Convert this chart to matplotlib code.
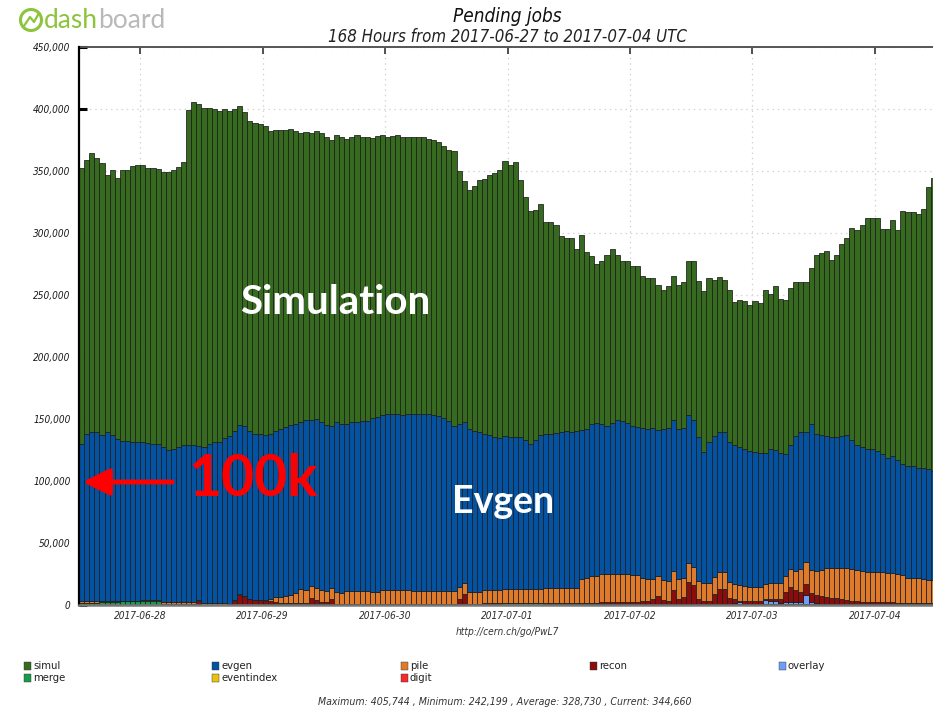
import matplotlib
matplotlib.use("Agg")
import matplotlib.pyplot as plt
import matplotlib.dates as mdates
from matplotlib import font_manager as fm
from matplotlib.patches import Rectangle, Ellipse, FancyArrowPatch
from matplotlib.lines import Line2D
from matplotlib.ticker import MultipleLocator, FuncFormatter
import numpy as np
import pandas as pd

# ---------------- data (thousands of pending jobs, one bar per hour) ----------------
SCALE = 1000
start_time = "2017-06-27 12:00"

simul = [222.6, 220.9, 225.2, 220.9, 219.3, 207.5, 213.6, 210.7, 218.2, 218.2,
         222.5, 223.0, 223.0, 222.0, 222.8, 221.4, 222.0, 223.9, 224.9, 226.3,
         228.1, 270.1, 276.6, 276.0, 273.6, 270.9, 268.8, 267.2, 265.3, 262.6,
         259.9, 257.2, 253.0, 250.0, 250.5, 249.7, 248.9, 244.8, 242.9, 241.6,
         239.5, 238.9, 236.3, 233.0, 232.5, 231.4, 232.5, 233.6, 231.9, 230.7,
         231.7, 231.4, 229.9, 229.8, 231.4, 228.7, 228.7,
         225.8, 226.3, 225.2, 223.6, 224.2, 224.7, 224.2, 223.1, 222.8, 223.1,
         222.8, 221.5, 221.2, 221.0, 219.1, 218.2, 221.7, 203.7, 194.0, 192.4,
         197.3, 202.9, 205.6, 210.1, 212.6, 216.3, 221.2, 219.0, 221.5, 206.9,
         195.3, 187.5, 184.8, 185.9, 170.6, 170.6, 168.0, 158.0, 155.8, 156.4,
         146.4, 157.1, 142.6, 135.4, 128.1, 131.9, 137.8, 139.9, 132.4, 128.7,
         130.3, 128.4, 129.4, 122.2, 121.6, 121.2, 116.9, 112.3, 114.2, 116.1,
         115.8, 117.4, 124.2, 128.2, 126.1, 129.5, 132.5, 125.8, 125.0, 122.3,
         122.3, 114.7, 118.8, 119.0, 118.2, 121.7, 120.6, 131.1, 124.7, 131.7,
         123.9, 123.6, 126.3, 124.2, 121.5, 121.5, 125.7, 143.7, 146.4, 148.5,
         142.9, 146.6, 154.7, 158.7, 171.6, 173.2, 179.4, 185.6, 185.6, 187.7,
         181.5, 185.0, 189.6, 186.0, 204.0, 205.4, 204.8, 204.6, 209.1, 228.1, 236.8]

evgen = [126.6, 134.6, 136.0, 136.5, 134.0, 136.4, 133.8, 130.8, 128.9, 128.9,
         128.1, 128.4, 128.0, 126.9, 126.1, 126.1, 124.9, 123.0, 123.6, 124.9,
         126.8, 127.0, 126.7, 123.7, 125.6, 128.3, 129.6, 129.9, 133.1, 135.5,
         135.9, 136.6, 137.0, 135.5, 134.1, 134.1, 133.1, 132.9, 134.2, 135.5,
         136.6, 137.2, 136.8, 135.0, 137.1, 134.2, 136.1, 135.5, 133.9, 131.2,
         136.6, 136.3, 135.2, 136.3, 136.9, 137.4, 137.4,
         140.1, 140.9, 141.5, 141.8, 142.0, 142.0, 141.5, 142.0, 143.0, 142.7,
         143.0, 143.0, 142.2, 140.8, 139.5, 137.4, 132.8, 131.5, 130.2, 131.3,
         129.9, 128.8, 125.9, 124.9, 123.5, 122.7, 123.7, 122.6, 122.6, 122.6,
         120.5, 117.3, 120.5, 124.5, 124.3, 124.3, 124.8, 125.6, 126.2, 125.6,
         126.7, 119.7, 120.0, 122.7, 123.5, 121.0, 119.4, 122.1, 124.8, 123.7,
         122.1, 120.7, 119.7, 120.8, 121.4, 121.9, 117.6, 121.9, 123.5, 121.6,
         121.4, 120.8, 118.9, 118.1, 116.2, 105.5, 113.2, 113.8, 112.7, 112.7,
         113.0, 112.2, 111.4, 110.6, 109.5, 108.7, 108.2, 105.5, 108.1, 107.9,
         104.7, 98.8, 100.2, 109.3, 110.6, 104.5, 117.9, 110.9, 109.0, 106.6,
         105.3, 105.3, 106.6, 107.4, 104.1, 101.3, 99.9, 99.3, 99.3, 97.2,
         95.3, 92.6, 94.5, 91.6, 90.2, 89.9, 90.5, 88.6, 89.5, 89.2, 87.8]

pile = [1.8, 1.8, 1.8, 1.8, 0.6, 0.6, 0.6, 0.6, 0.4, 0.4,
        0.4, 0.4, 0.8, 0.8, 0.8, 0.8, 1.3, 1.3, 1.3, 1.3,
        1.3, 1.2, 1.2, 1.3, 1.3, 1.3, 1.3, 1.3, 1.3, 0.3,
        1.3, 0.3, 0.3, 0.3, 0.3, 0.3, 1.0, 1.5, 3.4, 4.4,
        5.8, 6.7, 8.1, 11.3, 10.5, 9.9, 9.9, 9.1, 9.2, 8.6,
        9.7, 8.4, 10.2, 10.2, 10.2, 10.2, 10.2,
        9.9, 9.9, 11.0, 11.0, 11.0, 11.0, 11.0, 11.0, 10.5, 10.5,
        10.5, 10.5, 10.5, 10.5, 10.5, 10.5, 10.5, 9.4, 8.9, 9.7,
        9.7, 9.7, 10.5, 10.5, 10.5, 10.5, 10.9, 10.9, 10.9, 10.9,
        10.9, 10.9, 10.9, 10.9, 12.6, 12.6, 12.6, 12.6, 12.6, 12.6,
        12.6, 19.6, 20.2, 21.3, 21.3, 22.2, 22.2, 22.2, 22.2, 22.2,
        22.2, 21.4, 21.4, 18.7, 17.3, 16.0, 16.1, 16.1, 15.8, 15.5,
        15.5, 15.3, 15.2, 15.0, 14.7, 15.1, 15.1, 14.2, 13.7, 13.7,
        12.6, 12.6, 12.9, 11.8, 11.3, 11.3, 11.3, 12.1, 13.4, 12.8,
        13.4, 12.6, 14.5, 15.5, 18.0, 18.2, 18.2, 19.3, 20.9, 23.6,
        24.1, 24.4, 24.9, 25.5, 25.5, 25.2, 24.6, 24.1, 24.1, 24.4,
        24.4, 23.6, 23.8, 23.2, 21.9, 20.2, 20.2, 20.2, 18.8, 18.3, 18.3]

recon = [0, 0, 0, 0, 0, 0, 0, 0, 0, 0,
         0, 0, 0, 0, 0, 0, 0, 0, 0, 0,
         0, 0.6, 0.6, 2.5, 0, 0, 0, 0, 0, 0,
         2.6, 8.0, 7.0, 4.5, 3.5, 3.5, 2.5, 2.5, 2.0, 1.0,
         0.6, 0.8, 0.8, 0.8, 0.8, 4.9, 3.5, 2.2, 1.6, 4.3,
         0.5, 0.5, 0.3, 0.3, 0.3, 0.3, 0.3,
         0.3, 0.3, 0.5, 0.5, 0.5, 0.5, 0.5, 0.5, 0.3, 0.3,
         0.3, 0.3, 0.3, 0.3, 0.3, 0.3, 0.3, 4.6, 8.0, 0.5,
         0.5, 0.5, 1.0, 1.0, 1.0, 1.0, 0.5, 0.5, 0.5, 0.5,
         0.5, 0.5, 0.5, 0.5, 0.5, 0.5, 0.5, 0.5, 0.5, 0.5,
         0.5, 0.8, 1.0, 1.2, 1.2, 1.7, 1.7, 1.7, 1.7, 1.7,
         1.7, 1.7, 1.7, 2.5, 2.5, 3.6, 6.2, 3.0, 2.5, 10.8,
         4.1, 5.7, 17.8, 14.8, 3.6, 1.9, 1.9, 7.6, 12.1, 12.1,
         4.9, 2.6, 0.9, 2.5, 2.2, 2.2, 2.2, 1.1, 1.6, 1.6,
         2.6, 8.4, 12.4, 9.5, 8.4, 8.9, 7.6, 6.5, 6.2, 5.4,
         4.9, 4.6, 4.1, 3.0, 2.2, 1.9, 1.7, 1.7, 1.7, 1.4,
         1.4, 1.4, 1.2, 1.0, 1.0, 0.8, 0.8, 0.8, 0.8, 0.8, 0.8]

overlay = [0, 0, 0, 0, 0, 0, 0, 0, 0, 0,
           0, 0, 0, 0, 0, 0, 0, 0, 0, 0,
           0, 0, 0, 0, 0, 0, 0, 0, 0, 0,
           0, 0, 0, 0, 0, 0, 0, 0, 0, 0,
           0, 0, 0, 0, 0, 0, 0, 0, 0, 0,
           0, 0, 0, 0, 0, 0, 0,
           0, 0, 0, 0, 0, 0, 0, 0, 0, 0,
           0, 0, 0, 0, 0, 0, 0, 0, 0, 0,
           0, 0, 0, 0, 0, 0, 0, 0, 0, 0,
           0, 0, 0, 0, 0, 0, 0, 0, 0, 0,
           0, 0, 0, 0, 0, 0, 0, 0, 0, 0,
           0, 0, 0, 0, 0, 0, 0, 0, 0, 0,
           0, 0, 0, 0, 0, 0, 0, 0, 0, 0,
           0, 1.0, 1.3, 0, 0, 0, 0, 3.0, 2.0, 2.0,
           1.0, 1.3, 1.3, 1.3, 1.3, 6.7, 1.3, 0.5, 0, 0,
           0, 0, 0, 0, 0, 0, 0, 0, 0, 0,
           0, 0, 0, 0, 0, 0, 0, 0, 0, 0, 0]

merge = [1.5, 1.5, 1.5, 1.5, 2.5, 2.5, 2.5, 2.5, 3.0, 3.0,
         3.0, 3.0, 3.0, 3.0, 3.0, 3.0, 1.0, 1.0, 1.0, 1.0,
         1.0, 0.6, 0.6, 0.5, 0.3, 0.3, 0.3, 0.3, 0.3, 0.3,
         0.3, 0.3, 0.3, 0.3, 0.3, 0.3, 0.5, 0.8, 0.8, 0.8,
         0.8, 0.5, 0.5, 0.5, 0.5, 0.5, 0.5, 0.5, 0.5, 0.5,
         0.5, 0.5, 0.5, 0.5, 0.5, 0.5, 0.5,
         0.5, 0.5, 0.5, 0.5, 0.5, 0.5, 0.5, 0.5, 0.5, 0.5,
         0.5, 0.5, 0.5, 0.5, 0.5, 0.5, 0.5, 0.5, 0.5, 0.5,
         0.5, 0.5, 0.5, 0.5, 0.5, 0.5, 1.5, 1.5, 1.5, 1.5,
         1.5, 1.5, 1.5, 1.5, 0.8, 0.8, 0.8, 0.8, 0.8, 0.8,
         0.8, 0.8, 0.8, 0.8, 0.8, 0.8, 0.8, 0.8, 0.8, 0.8,
         0.8, 0.8, 0.8, 0.8, 0.8, 1.0, 1.0, 1.0, 1.0, 1.0,
         1.0, 1.0, 1.0, 1.0, 1.0, 1.0, 1.0, 1.0, 1.0, 1.0,
         1.0, 1.0, 1.0, 1.0, 1.0, 1.0, 1.0, 1.0, 1.0, 1.0,
         1.0, 1.0, 1.0, 1.0, 1.0, 1.0, 1.0, 1.0, 1.0, 1.0,
         1.0, 1.0, 1.0, 1.0, 1.0, 1.0, 1.0, 1.0, 1.0, 1.0,
         1.0, 1.0, 1.0, 1.0, 1.0, 1.0, 1.0, 1.0, 1.0, 1.0, 1.0]

# legend order as in the dashboard (row 1 / row 2)
legend_row1 = ["simul", "evgen", "pile", "recon", "overlay"]
legend_row2 = ["merge", "eventindex", "digit"]

colors = {"simul": "#356a1f", "evgen": "#0453a3", "pile": "#df7a2b",
          "recon": "#8a0c0c", "overlay": "#6c9ff5", "merge": "#1a9a4b",
          "eventindex": "#e8c20c", "digit": "#f52a2a"}

title = "Pending jobs"
subtitle = "168 Hours from 2017-06-27 to 2017-07-04 UTC"
url_text = "http://cern.ch/go/PwL7"
footer = "Maximum: 405,744 , Minimum: 242,199 , Average: 328,730 , Current: 344,660"

# ---------------- fonts: pick a narrow face if one is installed ----------------
_fonts = {(f.name, f.stretch) for f in fm.fontManager.ttflist}
_names = {n for n, _ in _fonts}
if "Liberation Sans Narrow" in _names:
    NARROW = dict(family=["Liberation Sans Narrow", "DejaVu Sans"])
    K = 1.03
elif any(n == "DejaVu Sans" and s in ("condensed", "semi-condensed", 87.5, 75)
         for n, s in _fonts):
    NARROW = dict(family=["DejaVu Sans"], stretch="condensed")
    K = 0.97
elif "Roboto Condensed" in _names:
    NARROW = dict(family=["Roboto Condensed", "DejaVu Sans"])
    K = 1.0
else:
    NARROW = dict(family=["DejaVu Sans"])
    K = 0.86
BOLD = ["Lato", "DejaVu Sans"]

# ---------------- figure ----------------
W, H = 933, 710
fig = plt.figure(figsize=(W / 100, H / 100), dpi=100)
fig.patch.set_facecolor("white")

ax = fig.add_axes([79 / W, 1 - 605 / H, 1 - 79 / W, (605 - 47) / H])
ax.set_facecolor("white")

times = pd.date_range(start_time, periods=len(simul), freq="h")
xnum = mdates.date2num(times)
width = 1.0 / 24

stack_order = [("merge", merge), ("overlay", overlay), ("recon", recon),
               ("pile", pile), ("evgen", evgen), ("simul", simul)]
bottom = np.zeros(len(simul))
for name, vals in stack_order:
    v = np.asarray(vals, dtype=float) * SCALE
    ax.bar(xnum, v, width=width, bottom=bottom, align="edge",
           color=colors[name], edgecolor="#1c1c1c", linewidth=0.55, zorder=3)
    bottom = bottom + v

x0 = xnum[0]
ax.set_xlim(x0, x0 + 167.4 / 24)
ax.set_ylim(0, 450000)

ax.yaxis.set_major_locator(MultipleLocator(50000))
ax.yaxis.set_major_formatter(FuncFormatter(lambda v, p: f"{v:,.0f}"))
ax.xaxis.set_major_locator(mdates.DayLocator())
ax.xaxis.set_major_formatter(mdates.DateFormatter("%Y-%m-%d"))

ax.grid(True, color="#d4d4d4", linestyle=(0, (1.2, 3)), linewidth=0.9, zorder=0)
ax.set_axisbelow(True)

for lab in ax.get_yticklabels():
    lab.set(**NARROW)
    lab.set_fontstyle("italic")
    lab.set_fontsize(7.4 * K)
    lab.set_color("#1a1a1a")
for lab in ax.get_xticklabels():
    lab.set(**NARROW)
    lab.set_fontstyle("italic")
    lab.set_fontsize(7.5 * K)
    lab.set_color("#2a2a2a")

ax.tick_params(axis="y", direction="in", length=6, width=2.2, color="black", pad=6,
               left=True, right=False)
ax.tick_params(axis="x", direction="in", length=5, width=1.2, color="#333333", pad=4,
               top=True, bottom=True)

ax.spines["left"].set_color("black")
ax.spines["left"].set_linewidth(1.6)
ax.spines["top"].set_color("#555555")
ax.spines["top"].set_linewidth(1.4)
ax.spines["bottom"].set_color("#777777")
ax.spines["bottom"].set_linewidth(1.8)
ax.spines["right"].set_visible(False)
ax.spines["left"].set_zorder(5)
ax.spines["bottom"].set_zorder(5)

# ---------------- annotations ----------------
fig.text(335 / W, 1 - 303 / H, "Simulation", color="white", fontsize=29,
         fontweight="bold", family=BOLD, ha="center", va="center", zorder=10)
fig.text(503 / W, 1 - 502 / H, "Evgen", color="white", fontsize=27,
         fontweight="bold", family=BOLD, ha="center", va="center", zorder=10)
fig.text(253 / W, 1 - 479 / H, "100k", color="#ff0000", fontsize=41,
         fontweight="bold", family=BOLD, ha="center", va="center", zorder=10)
fig.add_artist(FancyArrowPatch(
    (175 / W, 1 - 482 / H), (80 / W, 1 - 482 / H), transform=fig.transFigure,
    arrowstyle="-|>,head_length=10,head_width=5", mutation_scale=1.6,
    color="#ff0000", linewidth=3.5, zorder=10))

# ---------------- titles / texts ----------------
fig.text(507 / W, 1 - 17 / H, title, fontsize=14 * K, fontstyle="italic",
         ha="center", va="center", color="#111111", **NARROW)
fig.text(507 / W, 1 - 37 / H, subtitle, fontsize=12.4 * K, fontstyle="italic",
         ha="center", va="center", color="#222222", **NARROW)
fig.text(507 / W, 1 - 632 / H, url_text, fontsize=7.5 * K, fontstyle="italic",
         ha="center", va="center", color="#333333", **NARROW)
fig.text(505 / W, 1 - 702 / H, footer, fontsize=7.8 * K, fontstyle="italic",
         ha="center", va="center", color="#333333", **NARROW)

# legend (manual, dashboard style)
col_x = [24, 212, 401, 590, 779]
row_y = [666, 678]
for r, row in enumerate([legend_row1, legend_row2]):
    for c, name in enumerate(row):
        x = col_x[c]
        y = row_y[r]
        fig.add_artist(Rectangle((x / W, 1 - (y + 4) / H), 7 / W, 8 / H,
                                 transform=fig.transFigure, facecolor=colors[name],
                                 edgecolor="#333333", linewidth=0.3))
        fig.text((x + 9) / W, 1 - y / H, name, fontsize=8.4 * K,
                 ha="left", va="center", color="#222222", **NARROW)

# dashboard logo
logo_green = "#8cc43c"
fig.add_artist(Ellipse((31 / W, 1 - 20 / H), 21 / W, 21 / H, transform=fig.transFigure,
                       facecolor="none", edgecolor=logo_green, linewidth=2.2))
fig.add_artist(Line2D([24 / W, 30 / W, 34 / W, 39 / W],
                      [1 - 26 / H, 1 - 17 / H, 1 - 22 / H, 1 - 13 / H],
                      transform=fig.transFigure, color=logo_green, linewidth=1.6))
t_dash = fig.text(44 / W, 1 - 21 / H, "dash", fontsize=19, family=["Lato", "DejaVu Sans"],
                  fontweight="normal", color=logo_green, ha="left", va="center")
fig.canvas.draw()
bb = t_dash.get_window_extent()
fig.text(bb.x1 / W, 1 - 21 / H, "board", fontsize=19, family=["Lato", "DejaVu Sans"],
         fontweight="normal", color="#b9b9b9", ha="left", va="center")

fig.savefig("out.png", dpi=100, facecolor="white")
